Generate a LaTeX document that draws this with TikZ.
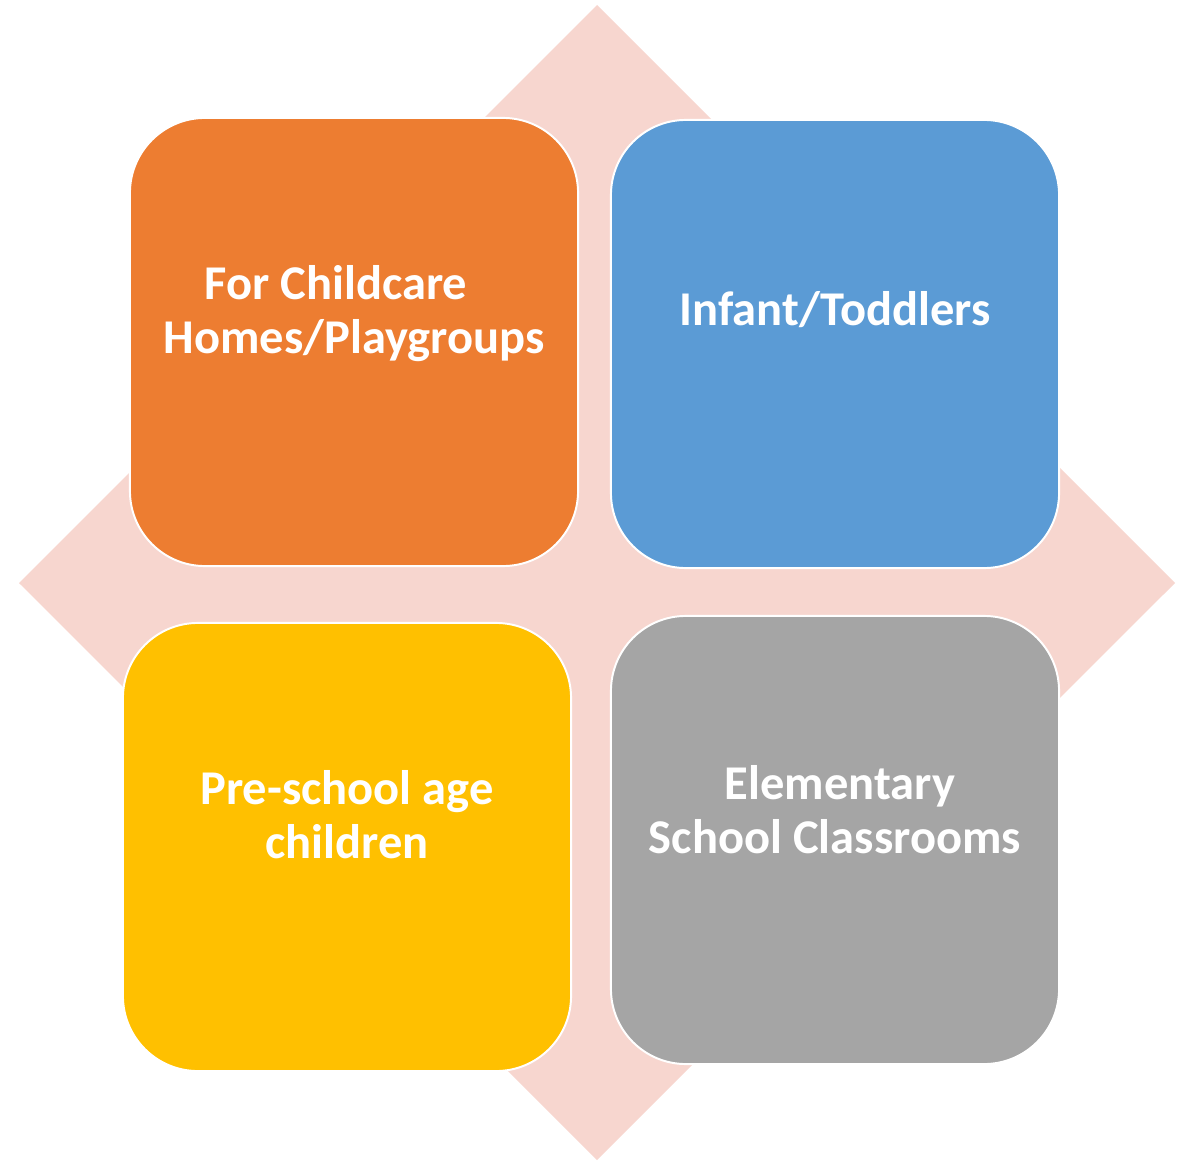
\documentclass[tikz,border=0pt]{standalone}
\usepackage{fontspec}
\setmainfont{Carlito}
\usetikzlibrary{positioning}
\definecolor{dpink}{HTML}{F7D6CF}
\definecolor{torange}{HTML}{ED7D31}
\definecolor{tblue}{HTML}{5B9BD5}
\definecolor{tyellow}{HTML}{FFC000}
\definecolor{tgray}{HTML}{A5A5A5}
\tikzset{
  tile/.style={draw=white, line width=1.4pt, rounded corners=1.875cm,
               minimum width=11.2cm, minimum height=11.2cm, inner sep=0pt},
  caption/.style={text=white, align=center, inner sep=0pt,
                  font=\fontsize{34.5}{38.5}\selectfont\bfseries}
}
\begin{document}
\begin{tikzpicture}[x=0.025cm, y=-0.025cm]
\useasboundingbox (0,0) rectangle (1189,1161);

% pink diamond behind
\fill[dpink] (597,5) -- (1175,583) -- (597,1160) -- (19,583) -- cycle;

% the four tiles
\node[tile, fill=torange] (care) at (354,342) {};
\node[tile, fill=tblue]   (infant) at (835,344) {};
\node[tile, fill=tyellow] (preschool) at (347,847) {};
\node[tile, fill=tgray]   (elem) at (835,840) {};

% texts
\node[caption] (caretxt) at ([yshift=0.72cm]care.center) {For Childcare\hspace*{0.9cm}\\Homes/Playgroups};
\node[caption] (infanttxt) at ([yshift=0.85cm]infant.center) {Infant/Toddlers};
\node[caption] (preschooltxt) at ([yshift=0.8cm]preschool.center) {Pre-school age\\children};
\node[caption] (elemtxt) at ([yshift=0.75cm]elem.center) {\hspace*{0.25cm}Elementary\\School Classrooms};
\end{tikzpicture}
\end{document}
